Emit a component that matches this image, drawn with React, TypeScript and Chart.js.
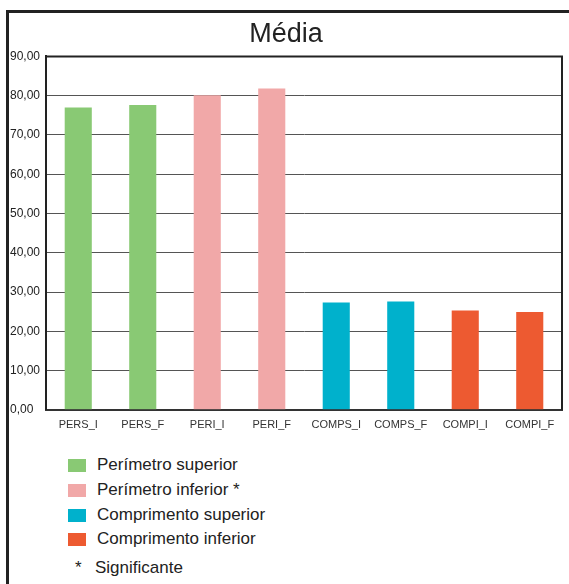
import React, { useEffect, useRef } from "react";
import { Chart, registerables } from "chart.js";

Chart.register(...registerables);

const categories = ["PERS_I", "PERS_F", "PERI_I", "PERI_F", "COMPS_I", "COMPS_F", "COMPI_I", "COMPI_F"];
const values = [77.0, 77.6, 80.1, 81.8, 27.3, 27.6, 25.3, 24.9];
const barGroup = [0, 0, 1, 1, 2, 2, 3, 3];
const groupNames = ["Perímetro superior", "Perímetro inferior *", "Comprimento superior", "Comprimento inferior"];
const groupColors = ["#89c974", "#f1a8a8", "#00b1cc", "#ed5a31"];
const noteText = "Significante";
const titleText = "Média";

const plotBorder = {
  id: "plotBorder",
  afterDraw(chart: any) {
    const { ctx, chartArea } = chart;
    ctx.save();
    ctx.strokeStyle = "#222";
    ctx.lineWidth = 2;
    ctx.beginPath();
    ctx.moveTo(chartArea.left, chartArea.top);
    ctx.lineTo(chartArea.right, chartArea.top);
    ctx.lineTo(chartArea.right, chartArea.bottom);
    ctx.stroke();
    ctx.restore();
  },
};

export default function App() {
  const ref = useRef<HTMLCanvasElement | null>(null);
  useEffect(() => {
    if (!ref.current) return;
    const chart = new Chart(ref.current, {
      type: "bar",
      data: {
        labels: categories,
        datasets: [
          {
            data: values,
            backgroundColor: barGroup.map((g) => groupColors[g]),
            barPercentage: 0.42,
            categoryPercentage: 1,
          },
        ],
      },
      options: {
        animation: false,
        responsive: false,
        layout: { padding: { left: 0, right: 1, top: 0, bottom: 0 } },
        plugins: {
          legend: { display: false },
          tooltip: { enabled: false },
          title: {
            display: true,
            text: titleText,
            color: "#222",
            font: { family: "Liberation Sans", size: 27, weight: "normal" },
            padding: { top: 6, bottom: 6 },
          },
        },
        scales: {
          x: {
            grid: { display: false },
            border: { display: true, color: "#333", width: 2 },
            ticks: {
              color: "#333",
              font: { family: "Liberation Sans", size: 11 },
              padding: 1,
              maxRotation: 0,
              autoSkip: false,
            },
          },
          y: {
            min: 0,
            max: 90,
            afterFit: (scale: any) => {
              scale.width = 36;
            },
            grid: { color: "#555", lineWidth: 1, drawTicks: false },
            border: { display: true, color: "#222", width: 2 },
            ticks: {
              stepSize: 10,
              crossAlign: "far",
              color: "#222",
              font: { family: "Liberation Sans", size: 12 },
              callback: (v: any) => Number(v).toFixed(2).replace(".", ","),
            },
          },
        },
      },
      plugins: [plotBorder],
    });
    return () => chart.destroy();
  }, []);

  const rowTops = [456, 481, 506, 530];
  return (
    <div style={{ position: "fixed", left: 0, top: 0, width: 569, height: 584, background: "#fff", overflow: "hidden" }}>
      <div style={{ position: "absolute", left: 6, top: 10, width: 3, height: 600, background: "#222" }} />
      <div style={{ position: "absolute", left: 6, top: 10, width: 563, height: 2.5, background: "#222" }} />
      <canvas ref={ref} width={553} height={421} style={{ position: "absolute", left: 10, top: 12 }} />
      {groupNames.map((name, i) => (
        <div key={name} style={{ position: "absolute", left: 68, top: rowTops[i], height: 18, display: "flex", alignItems: "center", fontFamily: "Liberation Sans", fontSize: 17, color: "#222" }}>
          <span style={{ display: "inline-block", width: 18, height: 13, background: groupColors[i], marginRight: 11 }} />
          <span>{name}</span>
        </div>
      ))}
      <div style={{ position: "absolute", left: 75, top: 558, fontFamily: "Liberation Sans", fontSize: 17, color: "#222", whiteSpace: "pre" }}>
        <span>*</span>
        <span style={{ position: "absolute", left: 20 }}>{noteText}</span>
      </div>
    </div>
  );
}
